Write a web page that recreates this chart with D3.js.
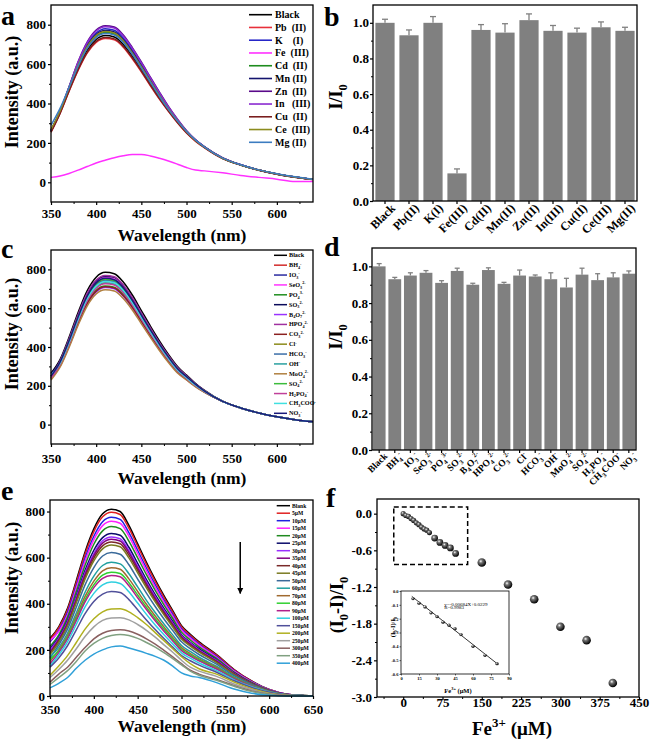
<!DOCTYPE html>
<html><head><meta charset="utf-8">
<script src="https://cdn.jsdelivr.net/npm/d3@7"></script>
<style>
body{margin:0;background:#fff}
text{font-family:"Liberation Serif","Times New Roman",serif;font-weight:bold;fill:#000}
</style></head>
<body><svg width="650" height="742"></svg>
<script>
// ---------------- DATA ----------------
const wlA = [350,360,370,380,390,400,410,420,430,440,450,460,470,480,490,500,510,520,540,560,580,600,620,640];
const ionsA = ["Black","Pb  (II)","K    (I)","Fe  (III)","Cd  (II)","Mn (II)","Zn  (II)","In   (III)","Cu  (II)","Ce  (III)","Mg (II)"];
const colorsA = ["#000000","#e8303a","#2626c8","#ff30ff","#1e8c1e","#14146e","#5a0a8a","#8a2ad0","#7a1e1e","#8c8c1e","#3c7cc0"];
const spectraA = [
 [260,355,470,580,670,725,745,738,700,640,572,500,430,365,307,255,212,178,122,88,62,42,27,15],
 [255,350,462,568,656,710,730,723,686,627,561,490,422,360,302,250,208,175,120,87,61,41,26,14],
 [262,360,482,605,700,758,780,772,733,670,598,523,448,378,315,260,215,180,124,89,62,42,27,15],
 [25,32,45,62,80,98,112,125,135,141,141,134,122,108,92,75,62,58,48,35,25,16,4,4],
 [262,358,476,590,683,740,760,753,714,653,583,510,438,370,310,257,213,178,122,88,62,42,27,15],
 [262,358,478,598,692,750,770,763,724,662,591,517,444,374,313,259,214,179,123,89,62,42,27,15],
 [262,360,485,612,712,773,795,788,748,684,611,534,458,385,320,262,216,180,124,89,62,42,27,15],
 [262,360,484,610,708,768,790,783,743,680,607,530,455,383,319,261,216,180,124,89,62,42,27,15],
 [255,350,464,572,660,715,735,728,691,632,565,494,425,362,304,252,210,176,121,87,61,41,26,14],
 [268,362,480,595,688,745,765,758,719,657,587,513,441,372,312,258,213,178,122,88,62,42,27,15],
 [290,375,482,590,680,735,755,748,710,650,580,508,437,370,311,258,214,179,123,89,63,43,28,16]
];
const ticksAx = [350,400,450,500,550,600];
const ticksAy = [0,200,400,600,800];

const barLabelsB = ["Black","Pb(II)","K(I)","Fe(III)","Cd(II)","Mn(II)","Zn(II)","In(III)","Cu(II)","Ce(III)","Mg(II)"];
const barValuesB = [1.0,0.93,1.0,0.155,0.96,0.945,1.015,0.955,0.945,0.975,0.955];
const barErrB    = [0.02,0.03,0.035,0.025,0.03,0.05,0.035,0.03,0.025,0.03,0.02];
const ticksBy = [0,0.2,0.4,0.6,0.8,1.0];

const wlC = [350,360,370,380,390,400,410,420,430,440,450,460,470,480,490,500,510,520,540,560,580,600,620,640];
const anionsC = ["Black","BH_{4}^{-}","IO_{3}^{-}","SeO_{3}^{2-}","PO_{4}^{3-}","SO_{3}^{2-}","B_{4}O_{7}^{2-}","HPO_{4}^{2-}","CO_{3}^{2-}","Cl^{-}","HCO_{3}^{-}","OH^{-}","MoO_{4}^{2-}","SO_{4}^{2-}","H_{2}PO_{4}^{-}","CH_{3}COO^{-}","NO_{3}^{-}"];
const colorsC = ["#000000","#d22a2a","#2a2aa0","#ff33ff","#1f8f1f","#0a0a5a","#9933ff","#a030a0","#8b2020","#8b8b1a","#3a6ea8","#2aa0a0","#b08040","#3cbc3c","#c0409a","#40e0e0","#1a1a7a"];
const spectraC = [
 [265,335,450,578,690,760,785,778,735,668,588,508,432,362,300,255,212,176,120,86,60,40,25,15],
 [245,312,419,538,642,707,730,724,684,621,547,472,402,337,280,240,202,170,120,86,60,40,25,15],
 [250,318,428,549,656,722,746,739,698,635,559,483,410,344,285,245,205,172,120,86,60,40,25,15],
 [255,323,434,558,666,733,758,751,709,645,567,490,417,349,290,248,207,173,120,86,60,40,25,15],
 [240,305,410,526,628,692,714,708,669,608,535,462,393,329,273,235,199,168,120,86,60,40,25,15],
 [260,327,439,564,673,741,765,759,717,651,573,495,421,353,293,250,209,174,120,86,60,40,25,15],
 [235,302,405,520,621,684,707,700,662,601,529,457,389,326,270,232,197,167,120,86,60,40,25,15],
 [250,328,441,566,676,745,769,762,720,655,576,498,423,355,294,251,209,175,120,86,60,40,25,15],
 [240,303,407,523,624,688,710,704,665,605,532,460,391,328,272,234,198,167,120,86,60,40,25,15],
 [235,318,428,549,656,722,746,739,698,635,559,483,410,344,285,245,205,172,120,86,60,40,25,15],
 [250,317,425,546,652,718,742,735,695,631,556,480,408,342,284,244,204,171,120,86,60,40,25,15],
 [245,312,419,538,642,707,730,724,684,621,547,472,402,337,280,240,202,170,120,86,60,40,25,15],
 [230,296,398,512,611,673,695,689,650,591,520,450,382,320,266,230,195,166,120,86,60,40,25,15],
 [245,320,430,552,659,726,750,743,702,638,562,485,413,346,287,246,206,172,120,86,60,40,25,15],
 [240,310,416,535,638,703,726,720,680,618,544,470,400,335,278,238,201,170,120,86,60,40,25,15],
 [255,315,423,543,649,714,738,731,691,628,553,478,406,340,282,242,203,171,120,86,60,40,25,15],
 [250,322,432,555,662,730,754,747,706,641,564,488,415,348,288,247,207,173,120,86,60,40,25,15]
];

const barValuesD = [1.0,0.93,0.95,0.965,0.91,0.975,0.90,0.98,0.905,0.95,0.945,0.93,0.885,0.955,0.925,0.94,0.96];
const barErrD    = [0.015,0.01,0.015,0.012,0.012,0.015,0.008,0.012,0.008,0.03,0.008,0.035,0.05,0.035,0.035,0.025,0.015];

const wlE = [350,360,370,380,390,400,410,420,430,440,450,460,470,480,490,500,510,520,540,560,580,600,620,650];
const concE = ["Blank","5μM","10μM","15μM","20μM","25μM","30μM","35μM","40μM","45μM","50μM","60μM","70μM","80μM","90μM","100μM","150μM","200μM","250μM","300μM","350μM","400μM"];
const colorsE = ["#000000","#e02020","#2020e0","#ff20ff","#208a20","#0a0a6a","#9a30ff","#800080","#7a2a2a","#7a7a20","#3a6a9a","#20a0a0","#a06a30","#30d030","#b0208a","#30d0e0","#50509a","#b0b020","#a0a0a0","#8a6060","#80a080","#30a0d8"];
const spectraE = [
 [250,300,380,500,625,725,790,810,800,740,660,580,505,435,370,305,268,235,180,115,65,28,8,0],
 [245,295,374,492,615,713,777,797,787,728,650,571,497,428,364,300,263,231,177,113,64,28,8,0],
 [235,285,362,478,598,693,756,775,766,708,632,555,483,416,354,292,257,225,172,110,62,27,8,0],
 [240,280,352,467,585,678,739,758,749,693,618,543,472,407,346,286,251,221,168,108,61,27,8,0],
 [215,265,342,453,567,658,716,735,726,672,599,526,458,395,336,277,243,213,163,104,59,26,7,0],
 [205,255,328,435,545,632,687,705,697,645,575,505,440,380,323,266,233,205,157,100,56,24,7,0],
 [200,250,322,427,534,618,673,690,682,631,563,495,431,372,316,261,229,200,154,98,55,24,7,0],
 [190,245,316,420,526,609,663,680,672,622,555,487,424,366,311,257,225,197,151,97,54,23,7,0],
 [185,240,310,412,516,598,651,668,660,611,545,479,416,359,305,252,220,194,148,95,53,23,6,0],
 [180,232,303,404,506,586,638,655,647,599,534,469,408,352,299,247,216,190,145,93,52,22,6,0],
 [165,222,290,385,482,557,607,622,615,569,507,446,388,334,284,235,205,180,138,88,50,21,6,0],
 [170,210,272,360,450,520,566,580,573,530,473,415,362,312,265,219,193,168,129,83,46,20,5,0],
 [150,200,262,346,432,498,543,556,550,508,453,398,347,299,254,210,184,161,124,79,45,19,5,0],
 [160,195,255,336,418,482,524,537,531,491,438,385,335,289,246,203,178,157,120,77,43,18,5,0],
 [140,188,248,327,408,470,510,523,517,478,426,375,326,281,239,197,173,152,117,75,42,18,5,0],
 [130,178,235,310,387,445,482,494,488,452,403,354,308,266,226,187,164,143,110,70,40,17,4,0],
 [125,165,218,287,357,410,442,453,449,418,374,330,288,249,212,175,153,134,103,66,37,16,4,0],
 [90,130,175,232,290,335,365,377,378,365,340,310,275,240,205,170,140,118,95,60,32,12,3,0],
 [80,115,155,205,258,300,328,338,339,330,310,285,255,222,190,155,125,108,85,52,28,10,2,0],
 [60,95,125,168,210,248,272,284,287,282,268,248,225,198,170,140,112,95,72,45,22,8,2,0],
 [50,80,110,150,195,228,250,262,267,262,250,232,212,188,162,135,108,90,68,42,20,7,1,0],
 [35,55,80,120,155,182,200,213,217,208,197,185,172,155,130,100,87,80,58,30,12,3,0,0]
];
const ticksEx = [350,400,450,500,550,600,650];
const arrowE = {x:567, from:668, to:445};

const concF = [0,5,10,15,20,25,30,35,40,45,50,60,70,80,90,100,150,200,250,300,350,400];
const respF = [0,-0.03,-0.045,-0.08,-0.11,-0.15,-0.18,-0.22,-0.25,-0.27,-0.31,-0.40,-0.47,-0.52,-0.56,-0.65,-0.80,-1.16,-1.40,-1.85,-2.07,-2.77];
const ticksFx = [0,75,150,225,300,375,450];
const ticksFy = [0,-0.6,-1.2,-1.8,-2.4,-3.0];
const zoomBoxF = {x0:-18, x1:123, y0:0.11, y1:-0.83};
const concI = [10,15,20,25,30,35,40,45,50,60,70,80];
const respI = [-0.055,-0.088,-0.115,-0.158,-0.185,-0.225,-0.248,-0.272,-0.315,-0.40,-0.465,-0.525];
const fitSlope = -0.00684, fitIntercept = 0.0229, fitRange = [9, 81];
const ticksIx = [0,15,30,45,60,75,90];
const ticksIy = [0,-0.1,-0.2,-0.3,-0.4,-0.5,-0.6];

// ---------------- HELPERS ----------------
const svg = d3.select("svg");
const defs = svg.append("defs");
const grad = defs.append("radialGradient").attr("id","sph").attr("cx","38%").attr("cy","35%").attr("r","65%");
grad.append("stop").attr("offset","0").attr("stop-color","#ffffff");
grad.append("stop").attr("offset","0.3").attr("stop-color","#777");
grad.append("stop").attr("offset","1").attr("stop-color","#000");
defs.append("marker").attr("id","arr").attr("viewBox","0 0 10 10").attr("refX",9).attr("refY",5)
  .attr("markerWidth",4).attr("markerHeight",6).attr("orient","auto")
  .append("path").attr("d","M0,0L10,5L0,10z").attr("fill","#000");

function rich(text, s, fs) {
  const re = /([_^])\{([^}]*)\}/g; let last = 0, m, shift = 0; const parts = [];
  while ((m = re.exec(s))) { if (m.index > last) parts.push([s.slice(last, m.index), 0]); parts.push([m[2], m[1] === "_" ? 1 : -1]); last = re.lastIndex; }
  if (last < s.length) parts.push([s.slice(last), 0]);
  for (const [t, k] of parts) {
    const target = k === 1 ? 0.28 * fs : k === -1 ? -0.42 * fs : 0;
    const ts = text.append("tspan").text(t);
    if (target - shift !== 0) ts.attr("dy", target - shift);
    if (k !== 0) ts.attr("font-size", fs * 0.68);
    shift = target;
  }
}
function styleAxis(a, fs, sw) {
  a.select(".domain").remove();
  a.attr("font-family", null).attr("font-size", fs);
  a.selectAll("line").attr("stroke", "#000").attr("stroke-width", sw || 1.2);
  a.selectAll("text").attr("fill", "#000");
}
function axisX(g, x, h, maj, min, fmt, lb, o = {}) {
  const fs = o.fs || 13, tl = o.tl || 3;
  const a = g.append("g").attr("transform", `translate(0,${h})`)
    .call(d3.axisBottom(x).tickValues(maj).tickFormat(fmt).tickSize(tl).tickPadding(lb - tl - 0.71 * fs));
  styleAxis(a, fs, o.sw);
  if (min) {
    const m = g.append("g").attr("transform", `translate(0,${h})`)
      .call(d3.axisBottom(x).tickValues(min).tickFormat("").tickSize(o.ml || 2));
    styleAxis(m, fs, o.sw ? o.sw * 0.8 : 1);
  }
  return a;
}
function axisY(g, y, maj, min, fmt, off, o = {}) {
  const fs = o.fs || 13, tl = o.tl || 3;
  const a = g.append("g").call(d3.axisLeft(y).tickValues(maj).tickFormat(fmt).tickSize(tl).tickPadding(off - tl));
  styleAxis(a, fs, o.sw);
  if (min) {
    const m = g.append("g").call(d3.axisLeft(y).tickValues(min).tickFormat("").tickSize(o.ml || 2));
    styleAxis(m, fs, o.sw ? o.sw * 0.8 : 1);
  }
  return a;
}
function frame(g, w, h, sw) {
  g.append("rect").attr("width", w).attr("height", h).attr("fill", "none").attr("stroke", "#000").attr("stroke-width", sw || 1.3);
}
function yTitle(x, y, s, fs) {
  const t = svg.append("text").attr("transform", `translate(${x},${y}) rotate(-90)`).attr("text-anchor", "middle").attr("font-size", fs);
  rich(t, s, fs);
}
function xTitle(x, y, s, fs) {
  const t = svg.append("text").attr("x", x).attr("y", y).attr("text-anchor", "middle").attr("font-size", fs);
  rich(t, s, fs);
}
function letter(x, y, s) {
  svg.append("text").attr("x", x).attr("y", y).attr("font-size", 28).text(s);
}
function legend(x0, x1, tx, y0, dy, labels, colors, fs, lw, isRich) {
  labels.forEach((lab, i) => {
    const yy = y0 + i * dy;
    svg.append("line").attr("x1", x0).attr("x2", x1).attr("y1", yy).attr("y2", yy).attr("stroke", colors[i]).attr("stroke-width", lw);
    const t = svg.append("text").attr("x", tx).attr("y", yy).attr("dy", "0.33em").attr("font-size", fs)
      .attr("xml:space", "preserve").style("white-space", "pre");
    if (isRich) rich(t, lab, fs); else t.text(lab);
  });
}
const fmtInt = d3.format("d");
const fmt1 = d => d.toFixed(1);

function spectra(L, wl, series, colors, xDom, yDom, xMaj, xMin, yMaj, yMin, xlb) {
  const g = svg.append("g").attr("transform", `translate(${L.x},${L.y})`);
  const x = d3.scaleLinear().domain(xDom).range([0, L.w]);
  const y = d3.scaleLinear().domain(yDom).range([L.h, 0]);
  const line = d3.line().x((d, i) => x(wl[i])).y(d => y(d)).curve(d3.curveMonotoneX);
  g.selectAll("path.s").data(series).join("path").attr("class", "s").attr("d", line)
    .attr("fill", "none").attr("stroke", (d, i) => colors[i]).attr("stroke-width", 1.5);
  axisX(g, x, L.h, xMaj, xMin, fmtInt, xlb);
  axisY(g, y, yMaj, yMin, fmtInt, 5);
  frame(g, L.w, L.h);
  return { g, x, y };
}
function bars(L, labels, values, errs, yDom, pi, po, labFs, labOff, capW, isRich) {
  const g = svg.append("g").attr("transform", `translate(${L.x},${L.y})`);
  const x = d3.scaleBand().domain(labels).range([0, L.w]).paddingInner(pi).paddingOuter(po);
  const y = d3.scaleLinear().domain(yDom).range([L.h, 0]);
  g.selectAll("rect.b").data(values).join("rect").attr("class", "b")
    .attr("x", (d, i) => x(labels[i])).attr("y", d => y(d)).attr("width", x.bandwidth()).attr("height", d => y(0) - y(d))
    .attr("fill", "#808080");
  const cx = i => x(labels[i]) + x.bandwidth() / 2;
  g.selectAll("line.e").data(values).join("line").attr("class", "e")
    .attr("x1", (d, i) => cx(i)).attr("x2", (d, i) => cx(i)).attr("y1", d => y(d)).attr("y2", (d, i) => y(d + errs[i]))
    .attr("stroke", "#808080").attr("stroke-width", 1.3);
  g.selectAll("line.c").data(values).join("line").attr("class", "c")
    .attr("x1", (d, i) => cx(i) - capW / 2).attr("x2", (d, i) => cx(i) + capW / 2).attr("y1", (d, i) => y(d + errs[i])).attr("y2", (d, i) => y(d + errs[i]))
    .attr("stroke", "#808080").attr("stroke-width", 1.3);
  const a = axisX(g, x, L.h, labels, null, d => d, 10, { fs: labFs });
  a.selectAll("text").each(function (d) {
    const t = d3.select(this);
    t.text(null).attr("y", 0).attr("x", 0).attr("dy", "0.7em")
      .attr("transform", `translate(${labOff[0]},${labOff[1]}) rotate(-45)`).attr("text-anchor", "end");
    if (isRich) rich(t, d, labFs); else t.text(d);
  });
  axisY(g, y, [0, 0.2, 0.4, 0.6, 0.8, 1.0], [0.1, 0.3, 0.5, 0.7, 0.9], fmt1, 4);
  frame(g, L.w, L.h);
  return { g, x, y };
}

// ---------------- PANEL a ----------------
spectra({ x: 51, y: 5, w: 262, h: 197 }, wlA, spectraA, colorsA, [350, 640], [-100, 900],
  ticksAx, [375, 425, 475, 525, 575, 625], ticksAy, [100, 300, 500, 700], 16);
legend(249, 272, 275, 14.7, 12.76, ionsA, colorsA, 10, 1.6, false);
xTitle(182, 241, "Wavelength (nm)", 17.5);
yTitle(18, 92, "Intensity (a.u.)", 18);
letter(1, 25, "a");

// ---------------- PANEL b ----------------
bars({ x: 373, y: 5, w: 264, h: 196 }, barLabelsB, barValuesB, barErrB, [0, 1.1], 0.2, 0.1, 12, [5, 2], 6, false);
yTitle(342, 97, "I/I_{0}", 18);
letter(324, 26, "b");

// ---------------- PANEL c ----------------
spectra({ x: 51, y: 250, w: 262, h: 194 }, wlC, spectraC, colorsC, [350, 640], [-100, 900],
  ticksAx, [375, 425, 475, 525, 575, 625], ticksAy, [100, 300, 500, 700], 19);
legend(274, 287, 289, 255.3, 9.875, anionsC, colorsC, 6.2, 1.5, true);
xTitle(182, 484, "Wavelength (nm)", 17.5);
yTitle(18, 334, "Intensity (a.u.)", 18);
letter(1, 258, "c");

// ---------------- PANEL d ----------------
bars({ x: 372, y: 248, w: 264, h: 202 }, anionsC, barValuesD, barErrD, [0, 1.1], 0.18, 0.05, 9.5, [4, 2], 5, true);
yTitle(342, 337, "I/I_{0}", 18);
letter(324, 256, "d");

// ---------------- PANEL e ----------------
const pe = spectra({ x: 50, y: 500, w: 263, h: 196 }, wlE, spectraE, colorsE, [350, 650], [0, 850],
  ticksEx, [375, 425, 475, 525, 575, 625], ticksAy, [100, 300, 500, 700], 18);
legend(276.7, 290, 292, 505.7, 7.5, concE, colorsE, 5.6, 1.5, false);
pe.g.append("line").attr("x1", pe.x(arrowE.x)).attr("x2", pe.x(arrowE.x)).attr("y1", pe.y(arrowE.from)).attr("y2", pe.y(arrowE.to))
  .attr("stroke", "#000").attr("stroke-width", 1.5).attr("marker-end", "url(#arr)");
xTitle(182, 732, "Wavelength (nm)", 17.5);
yTitle(18, 578, "Intensity (a.u.)", 18);
letter(1, 500, "e");

// ---------------- PANEL f ----------------
{
  const L = { x: 377, y: 499, w: 262, h: 198 };
  const g = svg.append("g").attr("transform", `translate(${L.x},${L.y})`);
  const x = d3.scaleLinear().domain([-50, 450]).range([0, L.w]);
  const y = d3.scaleLinear().domain([-3.0, 0.24]).range([L.h, 0]);
  g.append("rect").attr("x", x(zoomBoxF.x0)).attr("y", y(zoomBoxF.y0)).attr("width", x(zoomBoxF.x1) - x(zoomBoxF.x0))
    .attr("height", y(zoomBoxF.y1) - y(zoomBoxF.y0)).attr("fill", "none").attr("stroke", "#000").attr("stroke-width", 1.5).attr("stroke-dasharray", "5,3");
  g.selectAll("circle.p").data(respF).join("circle").attr("class", "p")
    .attr("cx", (d, i) => x(concF[i])).attr("cy", d => y(d))
    .attr("r", (d, i) => concF[i] <= 50 ? 2.6 : concF[i] <= 100 ? 3.4 : 4.3)
    .attr("fill", "url(#sph)");
  axisX(g, x, L.h, ticksFx, [-37.5, 37.5, 112.5, 187.5, 262.5, 337.5, 412.5], fmtInt, 10);
  axisY(g, y, ticksFy, [-0.3, -0.9, -1.5, -2.1, -2.7], fmt1, 5);
  frame(g, L.w, L.h);

  // inset
  const I = { x: 401, y: 591, w: 108, h: 83 };
  const gi = svg.append("g").attr("transform", `translate(${I.x},${I.y})`);
  const xi = d3.scaleLinear().domain([0, 90]).range([0, I.w]);
  const yi = d3.scaleLinear().domain([-0.6, 0]).range([I.h, 0]);
  gi.append("line").attr("x1", xi(fitRange[0])).attr("x2", xi(fitRange[1]))
    .attr("y1", yi(fitSlope * fitRange[0] + fitIntercept)).attr("y2", yi(fitSlope * fitRange[1] + fitIntercept))
    .attr("stroke", "#000").attr("stroke-width", 0.8);
  gi.selectAll("circle").data(respI).join("circle").attr("cx", (d, i) => xi(concI[i])).attr("cy", d => yi(d)).attr("r", 1.7)
    .attr("fill", "url(#sph)");
  axisX(gi, xi, I.h, ticksIx, null, fmtInt, 6, { fs: 4.5, tl: 1.5, sw: 0.6 });
  axisY(gi, yi, ticksIy, null, fmt1, 2.5, { fs: 4.5, tl: 1.5, sw: 0.6 });
  frame(gi, I.w, I.h, 0.8);
  gi.append("text").attr("x", xi(36)).attr("y", yi(-0.105)).attr("font-size", 5).style("font-weight", "normal").text("y=-0.00684X+0.0229");
  gi.append("text").attr("x", xi(36)).attr("y", yi(-0.13)).attr("font-size", 5).style("font-weight", "normal").text("R=0.9983");
  yTitle(395, 627, "(I_{0}-I)/I_{0}", 6.5);
  xTitle(458, 693, "Fe^{3+} (μM)", 6.5);
}
xTitle(512, 735, "Fe^{3+} (μM)", 19);
yTitle(343, 605, "(I_{0}-I)/I_{0}", 18);
letter(326, 507, "f");
</script></body></html>
